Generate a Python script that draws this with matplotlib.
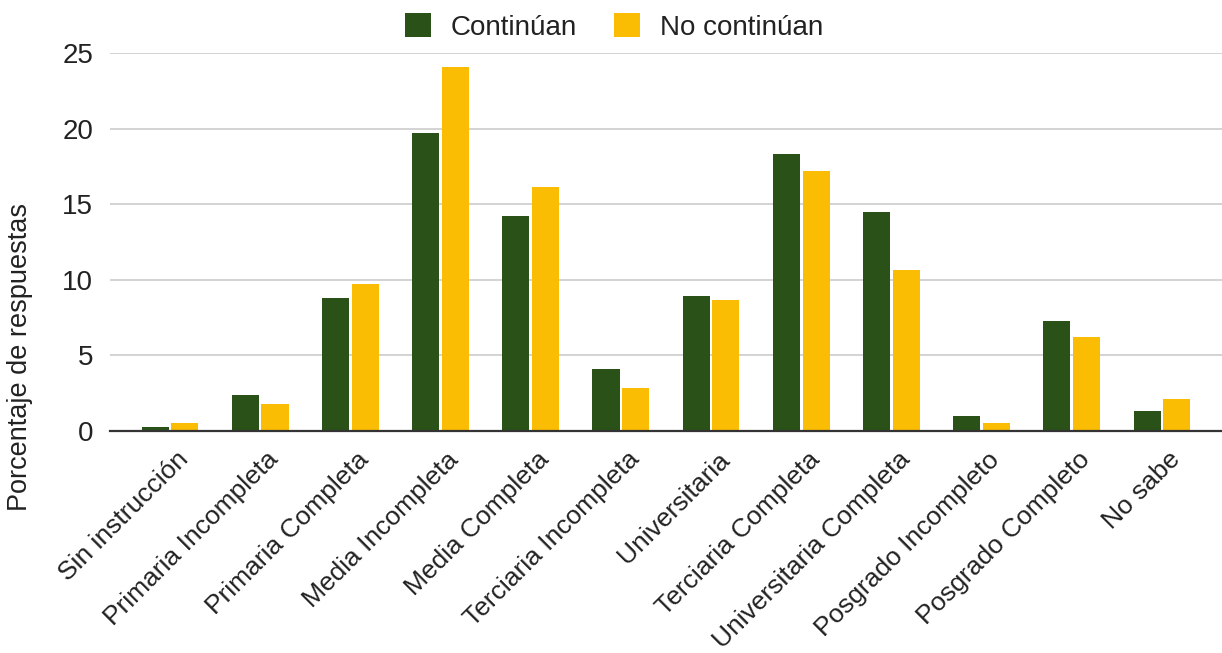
import matplotlib.pyplot as plt
import matplotlib.transforms as mtransforms
import numpy as np

categorias = [
    "Sin instrucción", "Primaria Incompleta", "Primaria Completa", "Media Incompleta",
    "Media Completa", "Terciaria Incompleta", "Universitaria", "Terciaria Completa",
    "Universitaria Completa", "Posgrado Incompleto", "Posgrado Completo", "No sabe",
]
continuan = [0.22, 2.35, 8.8, 19.7, 14.2, 4.07, 8.94, 18.3, 14.48, 0.97, 7.27, 1.28]
no_continuan = [0.53, 1.75, 9.72, 24.1, 16.17, 2.81, 8.66, 17.23, 10.65, 0.53, 6.19, 2.08]
series = ["Continúan", "No continúan"]
y_ticks = [0, 5, 10, 15, 20, 25]

VERDE = "#2a5218"
AMARILLO = "#fbbc04"
TEXTO = "#222222"

plt.rcParams["font.family"] = ["Liberation Sans", "DejaVu Sans"]
plt.rcParams["font.size"] = 20

fig = plt.figure(figsize=(12.22, 6.53), dpi=100)
ax = fig.add_axes([0.090, 0.3404, 0.910, 0.578])

x = np.arange(len(categorias))
ancho = 0.30
sep = 0.015
ax.bar(x - ancho / 2 - sep, continuan, ancho, color=VERDE, label=series[0], zorder=3)
ax.bar(x + ancho / 2 + sep, no_continuan, ancho, color=AMARILLO, label=series[1], zorder=3)

ax.set_xlim(-0.665, len(categorias) - 1 + 0.665)
ax.set_ylim(0, 25)
ax.set_yticks(y_ticks)
ax.yaxis.grid(True, color="#cccccc", linewidth=1.2, zorder=0)
ax.tick_params(axis="y", length=0, pad=12, labelcolor=TEXTO)
ax.tick_params(axis="x", length=0, pad=12, labelcolor=TEXTO, labelsize=19)
ax.set_xticks(x)
ax.set_xticklabels(categorias, rotation=45, ha="right", rotation_mode="anchor")
# shift the rotated labels a little to the right, like the reference
desplazo = mtransforms.ScaledTranslation(6 / 100, 0, fig.dpi_scale_trans)
for etiqueta in ax.get_xticklabels():
    etiqueta.set_transform(etiqueta.get_transform() + desplazo)

for lado in ["top", "right", "left"]:
    ax.spines[lado].set_visible(False)
ax.spines["bottom"].set_color("#333333")
ax.spines["bottom"].set_linewidth(1.6)
ax.spines["bottom"].set_zorder(4)

fig.text(20 / 1222, 1 - 357 / 653, "Porcentaje de respuestas", rotation=90,
         ha="center", va="center", color=TEXTO, fontsize=19.5)

fig.legend(loc="center", bbox_to_anchor=(614 / 1222, 1 - 27 / 653), ncol=2,
           frameon=False, handlelength=0.93, handleheight=0.93, handletextpad=0.7,
           columnspacing=1.35, labelcolor=TEXTO)

fig.savefig("out.png", dpi=100)
